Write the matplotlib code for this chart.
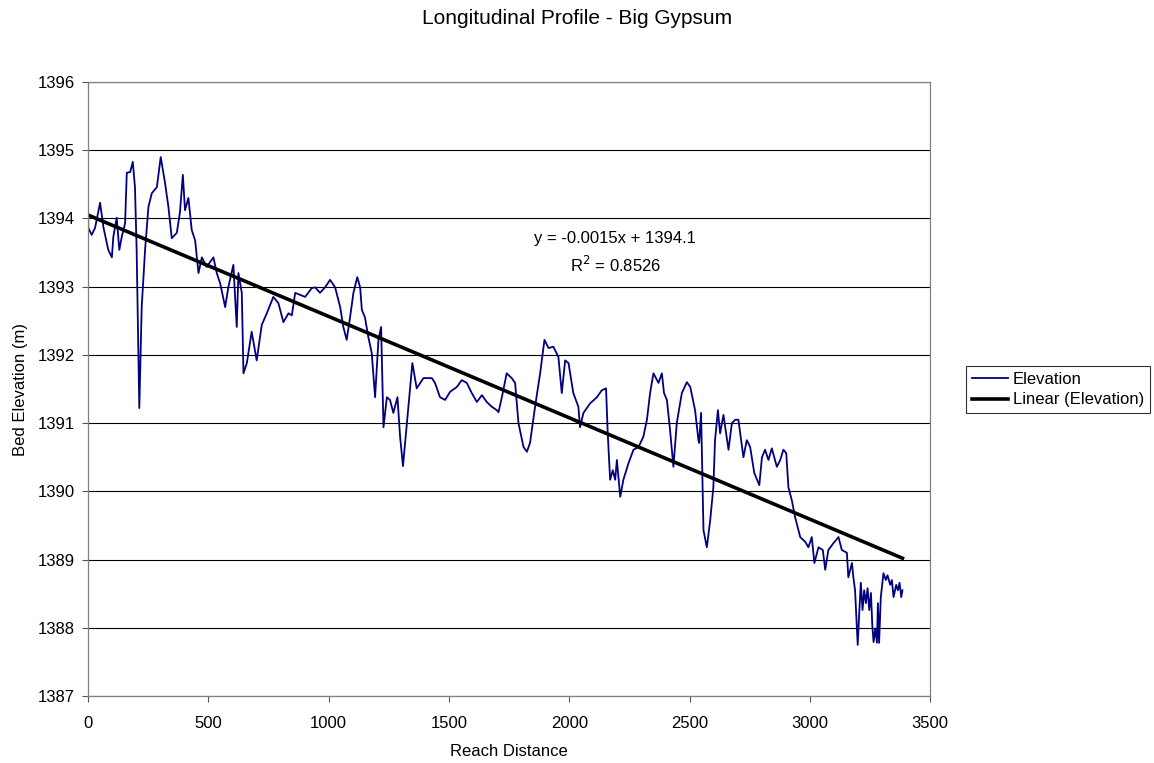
import matplotlib
matplotlib.use("Agg")
import matplotlib.pyplot as plt
import numpy as np

plt.rcParams['font.family'] = ['Liberation Sans', 'DejaVu Sans']

# reach distance along the channel and bed elevation read from the profile
distance = [0, 1, 15, 29, 50, 64, 84, 99, 105, 119, 130, 140, 154, 161, 175, 186, 195, 202,
            213, 223, 237, 251, 265, 286, 302, 320, 334, 348, 369, 382, 394, 403, 417, 431,
            445, 459, 473, 493, 521, 535, 549, 570, 583, 604, 618, 625, 639, 646, 660, 680,
            701, 722, 743, 770, 791, 812, 833, 847, 861, 881, 902, 930, 944, 964, 985, 1006,
            1027, 1048, 1061, 1075, 1089, 1103, 1119, 1131, 1138, 1151, 1165, 1179, 1193,
            1207, 1218, 1228, 1242, 1255, 1269, 1286, 1297, 1309, 1331, 1348, 1366, 1394,
            1429, 1442, 1463, 1484, 1505, 1533, 1553, 1574, 1595, 1616, 1637, 1657, 1678,
            1699, 1706, 1720, 1740, 1761, 1775, 1789, 1810, 1824, 1837, 1858, 1879, 1897,
            1914, 1934, 1955, 1969, 1983, 1997, 2017, 2038, 2045, 2059, 2087, 2115, 2135,
            2153, 2160, 2170, 2181, 2191, 2198, 2212, 2225, 2246, 2267, 2288, 2308, 2323,
            2336, 2350, 2371, 2385, 2394, 2406, 2419, 2433, 2447, 2468, 2489, 2503, 2523,
            2537, 2540, 2548, 2558, 2572, 2586, 2599, 2606, 2618, 2627, 2641, 2662, 2676,
            2690, 2703, 2724, 2738, 2752, 2769, 2790, 2801, 2814, 2828, 2842, 2863, 2877,
            2890, 2902, 2911, 2925, 2939, 2960, 2981, 2994, 3008, 3019, 3036, 3054, 3064,
            3077, 3098, 3119, 3133, 3154,
            3160, 3175, 3181, 3188, 3199, 3206, 3212, 3219, 3226, 3233, 3240, 3247, 3254,
            3260, 3265, 3272, 3279, 3283, 3288, 3295, 3306, 3316, 3323, 3334, 3341, 3348,
            3359, 3366, 3373, 3380, 3385]
elevation = [1394.15, 1393.86, 1393.76, 1393.86, 1394.23, 1393.87, 1393.54, 1393.43, 1393.73,
             1394.01, 1393.54, 1393.73, 1393.93, 1394.67, 1394.68, 1394.83, 1394.46, 1393.54,
             1391.22, 1392.70, 1393.54, 1394.17, 1394.37, 1394.46, 1394.90, 1394.52, 1394.17,
             1393.71, 1393.79, 1394.09, 1394.64, 1394.12, 1394.30, 1393.83, 1393.68, 1393.20,
             1393.43, 1393.29, 1393.43, 1393.20, 1393.05, 1392.70, 1392.99, 1393.32, 1392.41,
             1393.20, 1392.91, 1391.73, 1391.88, 1392.34, 1391.92, 1392.44, 1392.61, 1392.85,
             1392.76, 1392.48, 1392.61, 1392.58, 1392.91, 1392.88, 1392.85, 1392.98, 1392.99,
             1392.91, 1392.99, 1393.10, 1392.99, 1392.70, 1392.41, 1392.22, 1392.55, 1392.91,
             1393.14, 1392.99, 1392.66, 1392.55, 1392.26, 1392.03, 1391.38, 1392.22, 1392.41,
             1390.94, 1391.38, 1391.34, 1391.15, 1391.38, 1390.80, 1390.37, 1391.22, 1391.88,
             1391.51, 1391.66, 1391.66, 1391.59, 1391.38, 1391.34, 1391.46, 1391.53, 1391.63,
             1391.59, 1391.44, 1391.31, 1391.41, 1391.31, 1391.24, 1391.19, 1391.16, 1391.38,
             1391.73, 1391.66, 1391.59, 1391.00, 1390.65, 1390.58, 1390.71, 1391.24, 1391.73,
             1392.22, 1392.10, 1392.12, 1391.97, 1391.44, 1391.92, 1391.88, 1391.44, 1391.24,
             1390.94, 1391.15, 1391.29, 1391.38, 1391.48, 1391.51, 1390.85, 1390.17, 1390.31,
             1390.17, 1390.46, 1389.92, 1390.17, 1390.41, 1390.61, 1390.65, 1390.80, 1391.05,
             1391.44, 1391.73, 1391.59, 1391.73, 1391.44, 1391.34, 1390.90, 1390.36, 1391.00,
             1391.44, 1391.60, 1391.53, 1391.19, 1390.75, 1390.71, 1391.15, 1389.43, 1389.18,
             1389.58, 1390.06, 1390.75, 1391.19, 1390.85, 1391.12, 1390.61, 1391.00, 1391.05,
             1391.05, 1390.50, 1390.75, 1390.65, 1390.27, 1390.09, 1390.50, 1390.61, 1390.46,
             1390.63, 1390.36, 1390.46, 1390.61, 1390.56, 1390.06, 1389.87, 1389.62, 1389.33,
             1389.26, 1389.18, 1389.33, 1388.95, 1389.18, 1389.14, 1388.85, 1389.14, 1389.24,
             1389.33, 1389.14, 1389.10,
             1388.74, 1388.95, 1388.74, 1388.55, 1387.75, 1388.26, 1388.66, 1388.26, 1388.55,
             1388.36, 1388.58, 1388.26, 1388.51, 1388.01, 1387.79, 1387.99, 1387.78, 1388.36,
             1387.78, 1388.45, 1388.80, 1388.70, 1388.77, 1388.63, 1388.70, 1388.45, 1388.63,
             1388.55, 1388.66, 1388.45, 1388.55]

# linear trend as drawn in the chart
trend_slope = -0.001486
trend_intercept = 1394.05
equation_text = "y = -0.0015x + 1394.1"
r2_text = "R$^2$ = 0.8526"

x_ticks = [0, 500, 1000, 1500, 2000, 2500, 3000, 3500]
y_ticks = [1387, 1388, 1389, 1390, 1391, 1392, 1393, 1394, 1395, 1396]

fig = plt.figure(figsize=(11.54, 7.63), dpi=100)
ax = fig.add_axes([0.0763, 0.0878, 0.7297, 0.8047])

l1, = ax.plot(distance, elevation, color='#000080', linewidth=1.3)
xt = np.array([distance[0], distance[-1]])
l2, = ax.plot(xt, trend_slope * xt + trend_intercept, color='black', linewidth=2.6)

ax.set_xlim(0, 3500)
ax.set_ylim(1387, 1396)
ax.set_xticks(x_ticks)
ax.set_yticks(y_ticks)
ax.yaxis.grid(True, color='black', linewidth=0.8)
ax.set_axisbelow(True)
ax.tick_params(direction='out', length=4.5, width=0.8, color='#555555', labelsize=12)
ax.tick_params(axis='x', pad=10)
ax.tick_params(axis='y', pad=5)
for s in ax.spines.values():
    s.set_color('#808080')
    s.set_linewidth(0.9)

ax.set_xlabel("Reach Distance", fontsize=12, labelpad=9)
ax.set_ylabel("Bed Elevation (m)", fontsize=12, labelpad=7)
fig.text(0.5, 0.976, "Longitudinal Profile - Big Gypsum", ha='center', va='center', fontsize=15)

ax.text(2191, 1393.71, equation_text, ha='center', va='center', fontsize=12)
ax.text(2191, 1393.32, r2_text, ha='center', va='center', fontsize=12)

lgd = fig.legend([l1, l2], ["Elevation", "Linear (Elevation)"],
                 loc='center left', bbox_to_anchor=(0.837, 0.4895),
                 fontsize=12, frameon=True, fancybox=False, handlelength=2.2,
                 borderpad=0.35, labelspacing=0.35, handletextpad=0.25,
                 borderaxespad=0)
lgd.get_frame().set_edgecolor('black')
lgd.get_frame().set_linewidth(0.8)

plt.savefig('out.png', dpi=100)
